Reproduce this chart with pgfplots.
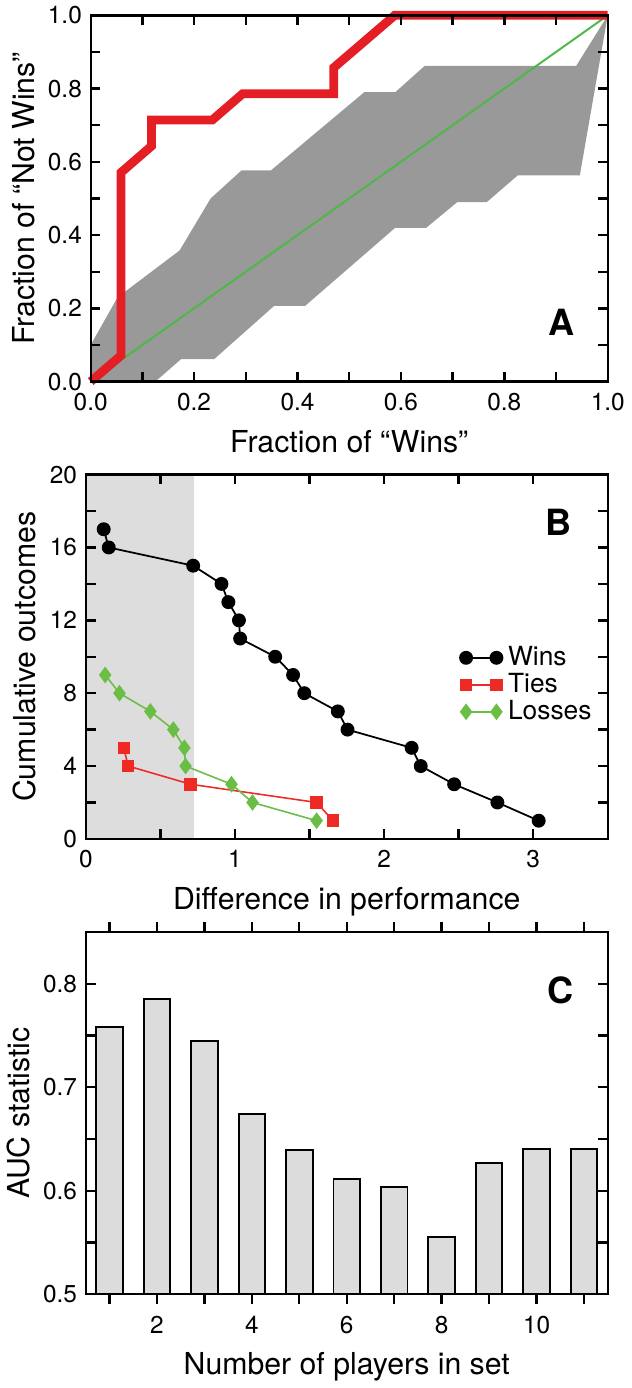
\documentclass[border=0pt]{standalone}
\usepackage{fontspec}
\setmainfont{TeX Gyre Heros}
\usepackage{pgfplots}
\pgfplotsset{compat=1.18}

\definecolor{rocred}{HTML}{E31E24}
\definecolor{diaggreen}{HTML}{4DB848}
\definecolor{bandgray}{HTML}{999999}
\definecolor{shade}{HTML}{DDDDDD}
\definecolor{tiered}{HTML}{EE2A24}
\definecolor{lossgreen}{HTML}{6ABD45}
\definecolor{barfill}{HTML}{DCDCDC}

\pgfplotsset{
  panel/.style={
    scale only axis,
    anchor=north west,
    axis line style={line width=1.2bp},
    every tick/.style={black,line width=1.2bp},
    major tick length=5bp,
    minor tick length=5bp,
    tick align=inside,
    /pgf/number format/assume math mode=true,
    ticklabel style={font=\fontsize{12.5}{13}\selectfont},
    xticklabel style={yshift=-2.5bp},
    yticklabel style={xshift=-1bp},
    label style={font=\fontsize{15.5}{17}\selectfont},
    xlabel style={yshift=-3bp},
  },
  onedec/.style={/pgf/number format/.cd,fixed,fixed zerofill,precision=1},
}

\begin{document}
\begin{tikzpicture}
\path (0,0) rectangle (316bp,-694bp);

% ---- panel A
\begin{axis}[panel, at={(44.5bp,-7.5bp)}, width=264bp, height=187bp,
  xmin=0, xmax=1, ymin=0, ymax=1,
  xtick={0,0.2,0.4,0.6,0.8,1}, ytick={0,0.2,0.4,0.6,0.8,1},
  minor tick num=1,
  xticklabel style={onedec}, yticklabel style={onedec},
  xlabel={Fraction of “Wins”}, ylabel={Fraction of “Not Wins”},
  clip=false, axis on top]
\addplot[fill=bandgray, draw=none] coordinates {
  (0,0.10) (0.052,0.23) (0.172,0.358) (0.232,0.50) (0.292,0.577) (0.349,0.577)
  (0.529,0.79) (0.589,0.79) (0.646,0.862) (0.939,0.862) (1,1)
  (0.946,0.563) (0.826,0.563) (0.766,0.49) (0.709,0.49) (0.649,0.42) (0.589,0.42)
  (0.415,0.207) (0.355,0.207) (0.239,0.0615) (0.175,0.0615) (0.125,0) (0,0)};
\addplot[diaggreen, line width=1bp] coordinates {(0,0) (1,1)};
\addplot[rocred, line width=4.5bp, line join=miter] coordinates {
  (0,0) (0.0588,0.0714) (0.0588,0.571) (0.1176,0.643) (0.1176,0.714)
  (0.235,0.714) (0.294,0.786) (0.47,0.786) (0.47,0.857) (0.588,1) (1,1)};
\node[font=\fontsize{18.5}{18.5}\selectfont\bfseries] at (rel axis cs:0.911,0.163) {A};
\end{axis}

% ---- panel B
\begin{axis}[panel, at={(42bp,-242bp)}, width=266.5bp, height=186bp,
  xmin=0, xmax=3.5, ymin=0, ymax=20,
  xtick={0,1,2,3}, minor xtick={0.5,1.5,2.5,3.5},
  ytick={0,4,8,12,16,20}, minor ytick={2,6,10,14,18},
  xlabel={Difference in performance}, ylabel={Cumulative outcomes},
  legend style={at={(rel axis cs:0.705,0.55)}, anchor=north west, draw=none, fill=none,
    font=\fontsize{13.5}{13.5}\selectfont, row sep=-1.5bp},
  legend cell align=left,
  legend image code/.code={\draw[mark repeat=2,mark phase=1,#1] plot coordinates {(0bp,0bp) (7.75bp,0bp) (15.5bp,0bp)};
    \path (19bp,0bp);},
  axis on top]
\addplot[fill=shade, draw=none, forget plot] coordinates {(0,0) (0.725,0) (0.725,20) (0,20)};
\addplot[black, line width=0.9bp, mark=*, mark size=3.1bp] coordinates {
  (0.12,17) (0.154,16) (0.72,15) (0.91,14) (0.956,13) (1.027,12) (1.035,11)
  (1.27,10) (1.39,9) (1.465,8) (1.69,7) (1.755,6) (2.185,5) (2.246,4)
  (2.47,3) (2.76,2) (3.037,1)};
\addplot[tiered, line width=0.8bp, mark=square*, mark size=2.8bp] coordinates {
  (0.255,5) (0.284,4) (0.703,3) (1.548,2) (1.657,1)};
\addplot[lossgreen, line width=0.8bp, mark=diamond*, mark size=3.6bp] coordinates {
  (0.13,9) (0.226,8) (0.433,7) (0.587,6) (0.661,5) (0.669,4) (0.977,3)
  (1.118,2) (1.548,1)};
\legend{Wins, Ties, Losses}
\node[font=\fontsize{18.5}{18.5}\selectfont\bfseries] at (rel axis cs:0.906,0.869) {B};
\end{axis}

% ---- panel C
\begin{axis}[panel, at={(42bp,-475.5bp)}, width=266.5bp, height=185bp,
  xmin=0.5, xmax=11.5, ymin=0.5, ymax=0.85,
  xtick={2,4,6,8,10}, minor xtick={1,3,5,7,9,11},
  ytick={0.5,0.6,0.7,0.8}, minor ytick={0.55,0.65,0.75},
  yticklabel style={onedec},
  xlabel={Number of players in set}, ylabel={AUC statistic},
  ybar, bar width=0.56, axis on top]
\addplot[fill=barfill, draw=black, line width=1bp] coordinates {
  (1,0.758) (2,0.785) (3,0.745) (4,0.674) (5,0.639) (6,0.611)
  (7,0.604) (8,0.555) (9,0.627) (10,0.640) (11,0.640)};
\node[font=\fontsize{18.5}{18.5}\selectfont\bfseries] at (rel axis cs:0.91,0.84) {C};
\end{axis}
\end{tikzpicture}
\end{document}
